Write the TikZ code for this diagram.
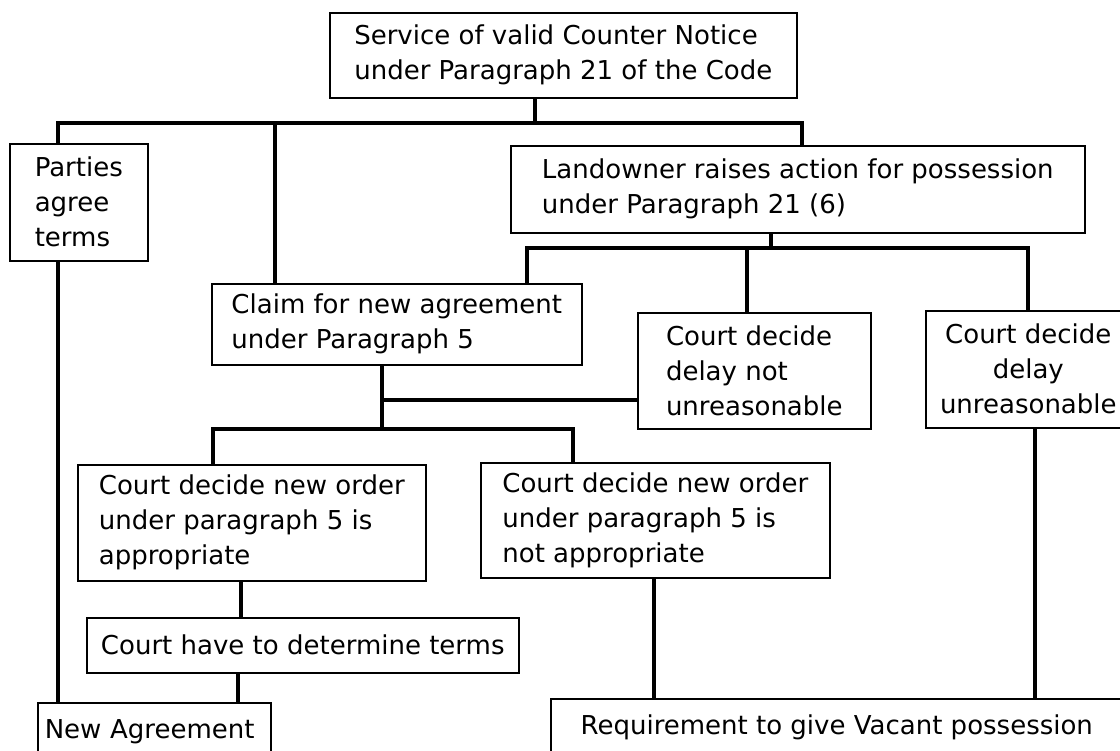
\documentclass[tikz,border=0pt]{standalone}
\usepackage{fontspec}
\setmainfont{DejaVu Sans}
\usepackage{tikz}
\usetikzlibrary{positioning}

\tikzset{
  box/.style={draw, line width=1.6pt, anchor=north west, inner sep=0pt, align=left,
    font=\fontsize{26}{35}\selectfont},
  link/.style={line width=4pt, line join=miter}
}

\begin{document}
\begin{tikzpicture}[x=1pt, y=-1pt]
  \clip (0,0) rectangle (1120,751);
  \fill[white] (0,0) rectangle (1120,751);

  % Boxes
  \node[box, minimum width=467pt, minimum height=85pt] (notice) at (329,12)
    {Service of valid Counter Notice\\under Paragraph 21 of the Code};
  \node[box, minimum width=138pt, minimum height=117pt] (agree) at (9,143)
    {Parties\\agree\\terms};
  \node[box, minimum width=574pt, minimum height=87pt] (action) at (510,145)
    {Landowner raises action for possession\\under Paragraph 21 (6)};
  \node[box, minimum width=370pt, minimum height=81pt] (claim) at (211,283)
    {Claim for new agreement\\under Paragraph 5};
  \node[box, minimum width=233pt, minimum height=116pt] (notunreas) at (637,312)
    {Court decide\\delay not\\unreasonable};
  \node[box, minimum width=205pt, minimum height=117pt, align=center] (unreas) at (925,310)
    {Court decide\\delay\\unreasonable};
  \node[box, minimum width=348pt, minimum height=116pt] (approp) at (77,464)
    {Court decide new order\\under paragraph 5 is\\appropriate};
  \node[box, minimum width=349pt, minimum height=115pt] (notapprop) at (480,462)
    {Court decide new order\\under paragraph 5 is\\not appropriate};
  \node[box, minimum width=432pt, minimum height=55pt] (terms) at (86,617)
    {Court have to determine terms};
  \node[box, minimum width=233pt, minimum height=58pt, inner xsep=7pt, text width=219pt] (newagr) at (37,702)
    {New Agreement};
  \node[box, minimum width=572pt, minimum height=58pt] (vacant) at (550,698)
    {Requirement to give Vacant possession};

  % Junction points
  \coordinate (j1) at (535,123);
  \coordinate (b1a) at (58,123);
  \coordinate (b1b) at (275,123);
  \coordinate (b1c) at (802,123);
  \coordinate (j2) at (771,248);
  \coordinate (b2a) at (527,248);
  \coordinate (b2b) at (747,248);
  \coordinate (b2c) at (1028,248);
  \coordinate (j3) at (382,400);
  \coordinate (j4) at (382,429);
  \coordinate (b4a) at (213,429);
  \coordinate (b4b) at (573,429);
  \coordinate (s1) at (241,600);
  \coordinate (s2) at (238,690);
  \coordinate (s3) at (654,640);
  \coordinate (s4) at (1035,560);

  % Connectors
  \draw[link] (notice.south -| j1) -- (j1);
  \draw[link] (agree.north -| b1a) |- (b1c) -- (action.north -| b1c);
  \draw[link] (b1b) -- (claim.north -| b1b);
  \draw[link] (action.south -| j2) -- (j2);
  \draw[link] (claim.north -| b2a) |- (b2c) -- (unreas.north -| b2c);
  \draw[link] (b2b) -- (notunreas.north -| b2b);
  \draw[link] (claim.south -| j4) -- (j4);
  \draw[link] (j3) -- (notunreas.west |- j3);
  \draw[link] (approp.north -| b4a) |- (b4b) -- (notapprop.north -| b4b);
  \draw[link] (approp.south -| s1) -- (terms.north -| s1);
  \draw[link] (terms.south -| s2) -- (newagr.north -| s2);
  \draw[link] (agree.south -| b1a) -- (newagr.north -| b1a);
  \draw[link] (notapprop.south -| s3) -- (vacant.north -| s3);
  \draw[link] (unreas.south -| s4) -- (vacant.north -| s4);
\end{tikzpicture}
\end{document}
